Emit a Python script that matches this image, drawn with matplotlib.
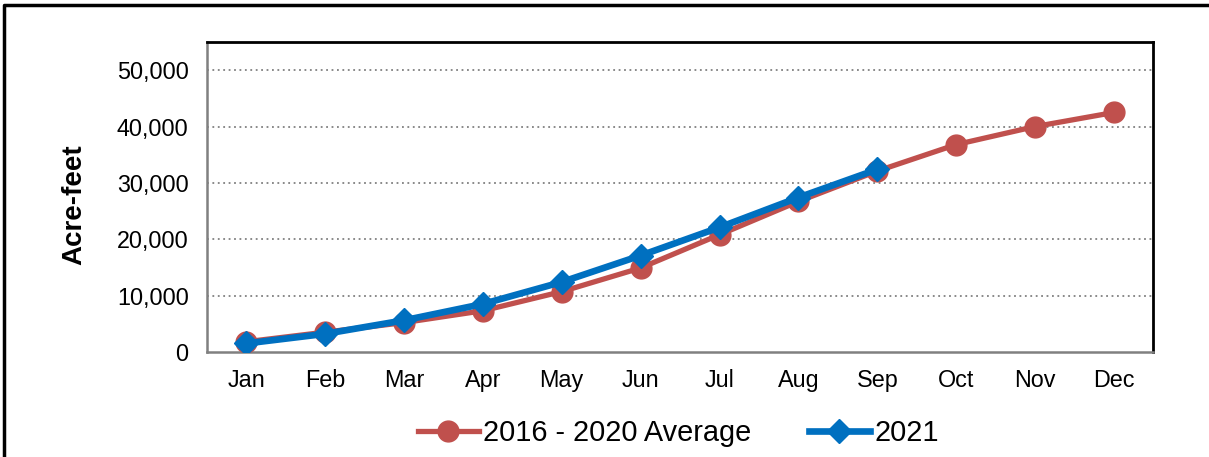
import matplotlib
matplotlib.use("Agg")
import matplotlib.pyplot as plt
from matplotlib.lines import Line2D
from matplotlib.ticker import FuncFormatter

plt.rcParams['font.family'] = ['Liberation Sans', 'DejaVu Sans']

months = ['Jan', 'Feb', 'Mar', 'Apr', 'May', 'Jun', 'Jul', 'Aug', 'Sep', 'Oct', 'Nov', 'Dec']
avg_2016_2020 = [1800, 3500, 5200, 7300, 10700, 14900, 20800, 26700, 32100, 36800, 40000, 42500]
y2021 = [1500, 3200, 5600, 8500, 12400, 17100, 22100, 27400, 32400]

red = '#C0504D'
blue = '#0070C0'

fig = plt.figure(figsize=(12.09, 4.57), dpi=100)
ax = fig.add_axes([0.171, 0.230, 0.783, 0.678])

x = list(range(len(months)))
ax.plot(x, avg_2016_2020, color=red, lw=3.8, marker='o', ms=15,
        label='2016 - 2020 Average', zorder=3)
ax.plot(x[:len(y2021)], y2021, color=blue, lw=4.8, marker='D', ms=12.5,
        label='2021', zorder=4)

ax.set_xlim(-0.5, 11.5)
ax.set_ylim(0, 55000)
ax.set_yticks(range(0, 50001, 10000))
ax.yaxis.set_major_formatter(FuncFormatter(lambda v, p: f'{int(v):,}'))
ax.set_xticks(x)
ax.set_xticklabels(months)
ax.tick_params(length=0, labelsize=16.8)
ax.tick_params(axis='y', pad=13)
ax.tick_params(axis='x', pad=12)

for v in range(10000, 50001, 10000):
    ax.axhline(v, color='#808080', lw=1.3, ls=(0, (1, 2)), zorder=1)

for s in ['top', 'right']:
    ax.spines[s].set_color('black')
    ax.spines[s].set_linewidth(2)
for s in ['left', 'bottom']:
    ax.spines[s].set_color('#808080')
    ax.spines[s].set_linewidth(1.8)

ax.set_ylabel('Acre-feet', fontsize=20, fontweight='bold')
ax.yaxis.set_label_coords(-0.126, 0.474)

fig.legend(loc='center', bbox_to_anchor=(0.561, 0.052), ncol=2, frameon=False,
           fontsize=20.8, handlelength=2.1, handletextpad=0.15, columnspacing=2.0)

# outer frame of the figure (only top and left edges are visible)
top = 1 - 4.5 / 457
left = 4 / 1209
fig.lines.append(Line2D([left, left, 1.0], [0.0, top, top], transform=fig.transFigure,
                        color='black', lw=2.5))

fig.savefig('out.png', dpi=100)
